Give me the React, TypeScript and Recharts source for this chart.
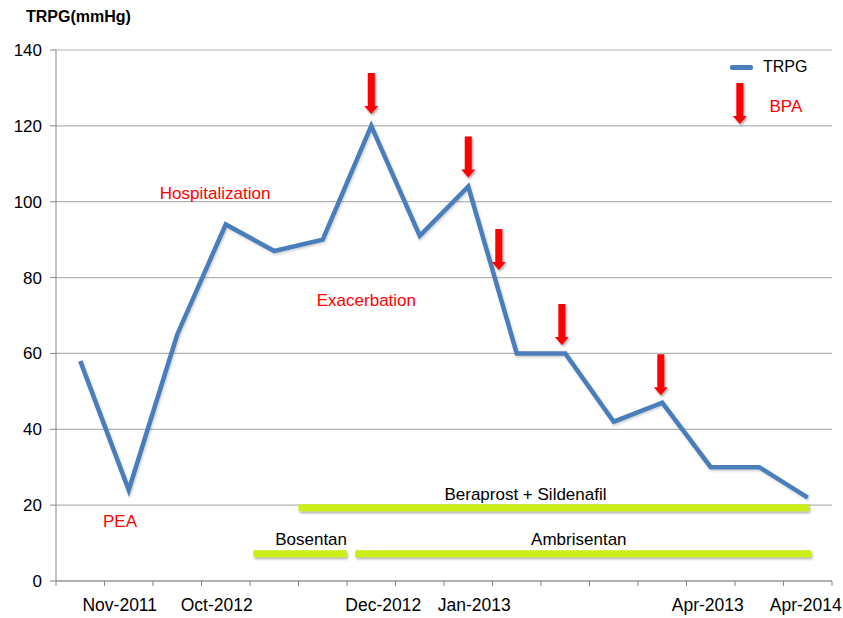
import React from "react";
import { LineChart, Line, XAxis, YAxis, CartesianGrid, ReferenceDot, ReferenceLine } from "recharts";

// Category slots (16 visits); line points sit at the centre of each slot
const xLabels = ["", "Nov-2011", "", "Oct-2012", "", "", "Dec-2012", "", "Jan-2013", "", "", "", "", "Apr-2013", "", "Apr-2014"];
const trpg = [58, 24, 65, 94, 87, 90, 120, 91, 104, 60, 60, 42, 47, 30, 30, 22];
const yTicks = [0, 20, 40, 60, 80, 100, 120, 140];

// BPA arrows: x position (slot units) and value at the arrow tip
const arrowX = [6.5, 8.5, 9.13, 10.43, 12.47];
const arrowTip = [123.1, 106.4, 82.0, 62.2, 49.0];
const legendArrow = { x: 14.1, y: 120.5 };

// Red annotations
const noteText = ["Hospitalization", "Exacerbation", "PEA", "BPA"];
const noteX = [3.28, 6.4, 1.32, 15.05];
const noteY = [102.3, 74.1, 15.8, 125.2];

// Treatment bars
const drugName = ["Beraprost + Sildenafil", "Bosentan", "Ambrisentan"];
const drugStart = [5.0, 4.07, 6.17];
const drugEnd = [15.52, 5.99, 15.57];
const drugY = [19.3, 7.2, 7.2];
const drugLabelX = [9.68, 5.26, 10.78];
const drugLabelY = [22.8, 11.1, 11.1];

const data = trpg.map((v, i) => ({ x: i + 0.5, v }));
const slotTicks = Array.from({ length: xLabels.length + 1 }, (_, i) => i);

// chart geometry
const W = 843;
const H = 618;
const M = { top: 50, right: 11, left: 0, bottom: 0 };
const Y_W = 56;
const X_H = 37;
const AXIS_Y = H - M.bottom - X_H;
const BAND = (W - M.left - M.right - Y_W) / xLabels.length;

// small horizontal nudges (px) of the x-axis labels, as in the original layout
const labelNudge: Record<string, number> = {
  "Nov-2011": -9,
  "Oct-2012": -9,
  "Dec-2012": 12,
  "Jan-2013": 6,
  "Apr-2013": -3,
  "Apr-2014": -2,
};

const BLUE = "#4a7ebb";
const GREEN = "#ccee12";
const RED = "#ff0000";
const AXIS = "#868686";
const SANS = "'Liberation Sans', Arial, sans-serif";

const Arrow = (props: any) => {
  const { cx, cy } = props;
  if (cx == null || cy == null) return null;
  const pts = [
    [cx - 3.5, cy - 41],
    [cx + 3.5, cy - 41],
    [cx + 3.5, cy - 8],
    [cx + 7, cy - 8],
    [cx, cy],
    [cx - 7, cy - 8],
    [cx - 3.5, cy - 8],
  ]
    .map((p) => p.join(","))
    .join(" ");
  return <polygon points={pts} fill={RED} filter="url(#shadow)" />;
};

const makeText = (text: string, color: string) => (props: any) => {
  const { cx, cy } = props;
  if (cx == null || cy == null) return null;
  return (
    <text x={cx} y={cy} dy="0.35em" textAnchor="middle" fill={color} fontSize={17} fontFamily={SANS}>
      {text}
    </text>
  );
};

// tick mark at each slot boundary; label (if any) centred in the slot to its right
const XLabelTick = (props: any) => {
  const { x, payload } = props;
  const label = xLabels[payload.value];
  return (
    <g>
      <line x1={x} x2={x} y1={AXIS_Y} y2={AXIS_Y + 5} stroke={AXIS} strokeWidth={1} />
      {label ? (
        <text
          x={x + BAND / 2 + (labelNudge[label] || 0)}
          y={AXIS_Y + 18}
          dy="0.71em"
          textAnchor="middle"
          fill="#000"
          fontSize={17.5}
          fontFamily={SANS}
        >
          {label}
        </text>
      ) : null}
    </g>
  );
};

export default function App() {
  return (
    <div style={{ position: "absolute", left: 0, top: 0, width: W, height: H, background: "#fff" }}>
      <svg width={0} height={0} style={{ position: "absolute" }}>
        <defs>
          <filter id="shadow" filterUnits="userSpaceOnUse" x={0} y={0} width={W} height={H}>
            <feDropShadow dx="1.2" dy="1.8" stdDeviation="1" floodColor="#000" floodOpacity="0.35" />
          </filter>
          <filter id="lshadow" filterUnits="userSpaceOnUse" x={0} y={0} width={W} height={H}>
            <feDropShadow dx="1" dy="1.5" stdDeviation="1" floodColor="#000" floodOpacity="0.2" />
          </filter>
        </defs>
      </svg>
      <div
        style={{
          position: "absolute",
          left: 26,
          top: 7,
          fontFamily: SANS,
          fontWeight: "bold",
          fontSize: 16,
          color: "#000",
          lineHeight: "20px",
          whiteSpace: "nowrap",
        }}
      >
        TRPG(mmHg)
      </div>
      <div style={{ position: "absolute", left: 730, top: 57, display: "flex", alignItems: "center", fontFamily: SANS, fontSize: 16 }}>
        <div style={{ width: 23, height: 5, background: BLUE, borderRadius: 2 }} />
        <span style={{ marginLeft: 10, lineHeight: "20px" }}>TRPG</span>
      </div>
      <LineChart width={W} height={H} data={data} margin={M}>
        <CartesianGrid vertical={false} stroke="#b4b4b4" strokeWidth={1.2} />
        <XAxis
          dataKey="x"
          type="number"
          domain={[0, xLabels.length]}
          ticks={slotTicks}
          tickLine={false}
          tickSize={5}
          tickMargin={13}
          height={X_H}
          stroke={AXIS}
          interval={0}
          tick={<XLabelTick />}
          allowDataOverflow
        />
        <YAxis
          domain={[0, 140]}
          ticks={yTicks}
          width={Y_W}
          tickSize={6}
          tickMargin={8}
          stroke={AXIS}
          interval={0}
          tick={{ fill: "#000", fontSize: 17, fontFamily: SANS }}
        />
        {drugName.map((n, i) => (
          <ReferenceLine
            key={"bar" + i}
            segment={[
              { x: drugStart[i], y: drugY[i] },
              { x: drugEnd[i], y: drugY[i] },
            ]}
            stroke={GREEN}
            strokeWidth={7}
            ifOverflow="visible"
            style={{ filter: "url(#shadow)" }}
          />
        ))}
        <Line
          dataKey="v"
          type="linear"
          stroke={BLUE}
          strokeWidth={4.5}
          dot={false}
          activeDot={false}
          isAnimationActive={false}
          style={{ filter: "url(#lshadow)" }}
        />
        {arrowX.map((x, i) => (
          <ReferenceDot key={"arr" + i} x={x} y={arrowTip[i]} r={0} shape={Arrow} ifOverflow="visible" />
        ))}
        <ReferenceDot x={legendArrow.x} y={legendArrow.y} r={0} shape={Arrow} ifOverflow="visible" />
        {noteText.map((t, i) => (
          <ReferenceDot key={"note" + i} x={noteX[i]} y={noteY[i]} r={0} shape={makeText(t, RED)} ifOverflow="visible" />
        ))}
        {drugName.map((t, i) => (
          <ReferenceDot key={"dl" + i} x={drugLabelX[i]} y={drugLabelY[i]} r={0} shape={makeText(t, "#000")} ifOverflow="visible" />
        ))}
      </LineChart>
    </div>
  );
}
